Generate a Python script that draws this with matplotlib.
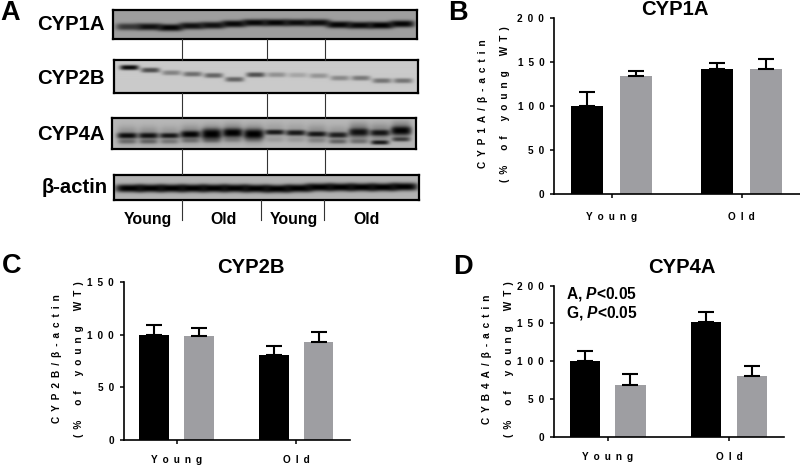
import numpy as np
import matplotlib
matplotlib.use('Agg')
import matplotlib.pyplot as plt

plt.rcParams['font.family'] = ['Liberation Sans', 'DejaVu Sans']
plt.rcParams['font.weight'] = 'bold'
plt.rcParams['mathtext.fontset'] = 'custom'
plt.rcParams['mathtext.bfit'] = 'Liberation Sans:italic:bold'

# bar charts
groups = ['Young', 'Old']
cyp1a_black = [100, 142]
cyp1a_black_err = [16, 7]
cyp1a_gray = [134, 142]
cyp1a_gray_err = [5, 11]
cyp2b_black = [100, 81]
cyp2b_black_err = [9, 8.5]
cyp2b_gray = [99, 92.5]
cyp2b_gray_err = [7, 10]
cyp4a_black = [100, 152]
cyp4a_black_err = [13, 13]
cyp4a_gray = [69, 81]
cyp4a_gray_err = [14, 12]

# blots: band height in the box (0 top, 1 bottom) and darkness, one per lane
cyp1a_y = [.57, .57, .60, .54, .52, .47, .43, .43, .43, .43, .50, .52, .52, .47]
cyp1a_dark = [.65, .9, .97, .9, .9, .95, .95, .97, .92, .92, .97, .95, 1, .97]
cyp2b_y = [.22, .30, .38, .42, .46, .58, .44, .44, .45, .47, .54, .54, .62, .62]
cyp2b_dark = [.95, .62, .35, .45, .5, .5, .6, .28, .18, .26, .32, .4, .42, .42]
cyp4a_y = [.56, .56, .56, .52, .51, .47, .51, .45, .47, .51, .54, .45, .47, .40]
cyp4a_dark = [.92, .88, .85, .97, 1, 1, 1, .85, .85, .85, .8, .85, .85, .97]
cyp4a_size = [2.8, 2.8, 2.6, 3.4, 5, 4.2, 4.6, 2.6, 2.8, 2.6, 2.8, 3.6, 3.0, 4.0]
cyp4a_low_y = [.75, .75, .75, .72, .72, .70, .70, .70, .70, .72, .75, .75, .78, .68]
cyp4a_low_dark = [.3, .35, .25, .25, .25, .15, .15, .08, .08, .15, .38, .3, .85, .6]
cyp4a_haze_dark = [.25, .25, .2, .3, .35, .35, .35, .15, .15, .25, .2, .4, .3, .4]
actin_y = [.54, .54, .54, .54, .54, .54, .55, .56, .54, .50, .50, .50, .50, .48]
actin_dark = [1, 1, 1, 1, 1, 1, 1, 1, 1, 1, 1, 1, 1, 1]

W, H = 800, 465
EN = '\u2002'
fig = plt.figure(figsize=(8, 4.65), dpi=100)


def px_axes(x0, y0, x1, y1, **kw):
    return fig.add_axes([x0 / W, 1 - y1 / H, (x1 - x0) / W, (y1 - y0) / H], **kw)


def spaced(s):
    return EN.join(s)


def blot(box, bg, bands):
    x0, y0, x1, y1 = box
    ax = px_axes(x0, y0, x1, y1)
    xx, yy = np.meshgrid(np.arange(0, x1 - x0, 0.5), np.arange(0, y1 - y0, 0.5))
    light = np.ones_like(xx)
    lanes = np.linspace(.05, .95, 14) * (x1 - x0)
    for ys, darks, sigma, half in bands:
        sizes = sigma if np.ndim(sigma) else [sigma] * len(lanes)
        for cx, fy, d, s in zip(lanes, ys, darks, sizes):
            band = np.exp(-((xx - cx) / half) ** 4 - (np.abs(yy - fy * (y1 - y0)) / s) ** 2.6)
            light *= 1 - d * band
    ax.imshow(bg * light, cmap='gray', vmin=0, vmax=1, aspect='auto',
              extent=(0, x1 - x0, y1 - y0, 0), interpolation='bilinear')
    ax.set_xticks([])
    ax.set_yticks([])
    for s in ax.spines.values():
        s.set_linewidth(1.6)


blot((113, 10, 417, 39), .62, [(cyp1a_y, cyp1a_dark, 3.5, 12.5)])
blot((114, 60.5, 418, 93), .79, [(cyp2b_y, cyp2b_dark, 2.5, 9.5)])
blot((112, 118, 416, 149), .72, [(cyp4a_y, cyp4a_haze_dark, 9, 10),
                                 (cyp4a_y, cyp4a_dark, cyp4a_size, 10),
                                 (cyp4a_low_y, cyp4a_low_dark, 2.2, 9)])
blot((114, 174.5, 419, 200), .70, [(actin_y, actin_dark, 3.9, 14)])


def bars(box, title_x, title_y, title, ylab, lab_x, ymax, yticks, xpad, black, black_err, gray, gray_err):
    ax = px_axes(*box)
    x = np.arange(len(groups))
    ax.bar(x - .188, black, .248, color='black')
    ax.bar(x + .188, gray, .248, color='#9e9ea2')
    for xs, v, e in ((x - .188, black, black_err), (x + .188, gray, gray_err)):
        ax.errorbar(xs, v, yerr=[np.zeros(len(e)), e], fmt='none', ecolor='black',
                    elinewidth=1.5, capsize=5.6, capthick=1.5)
    ax.set_xlim(-.44, 1.45)
    ax.set_ylim(0, ymax)
    ax.set_yticks(yticks)
    ax.set_yticklabels([spaced(str(t)) for t in yticks], fontsize=7.2)
    ax.set_xticks(x)
    ax.set_xticklabels([spaced(g) for g in groups], fontsize=7.2)
    ax.tick_params(axis='y', length=3.2, width=1.1, pad=4)
    ax.tick_params(axis='x', length=3.2, width=1.1, pad=xpad)
    ax.spines['top'].set_visible(False)
    ax.spines['right'].set_visible(False)
    ax.spines['left'].set_linewidth(1.2)
    ax.spines['bottom'].set_linewidth(1.2)
    ax.patch.set_alpha(0)
    mid = (box[1] + box[3]) / 2 - 2
    over.text(box[0] - lab_x, mid, ylab, rotation=90, ha='center', va='center', fontsize=7.2)
    line2 = (EN * 3).join(spaced(w) for w in ['(%', 'of', 'young', 'WT)'])
    over.text(box[0] - lab_x + 22, mid, line2, rotation=90, ha='center', va='center', fontsize=7.2)
    over.text(title_x, title_y, title, ha='center', va='center', fontsize=14.6)


# pixel overlay for labels and connector lines
over = px_axes(0, 0, W, H)
over.set_xlim(0, W)
over.set_ylim(H, 0)
over.axis('off')
over.set_zorder(5)

for x, y0, y1 in [(182, 39, 60), (266.7, 39, 60), (324.7, 39, 60),
                  (182, 93, 118), (266.7, 93, 118), (324.7, 93, 118),
                  (182, 149, 174), (266.7, 149, 174), (324.7, 149, 174),
                  (182, 200, 219.5), (261.3, 200, 220), (323.7, 200, 220)]:
    over.plot([x, x], [y0, y1], color='#333333', lw=0.8)

for y, s in [(24, 'CYP1A'), (79, 'CYP2B'), (134, 'CYP4A')]:
    over.text(104.5, y, s, ha='right', va='center', fontsize=14.6)
over.text(108, 187, 'β-actin', ha='right', va='center', fontsize=14.6)
for x, s in [(148, 'Young'), (224, 'Old'), (293.7, 'Young'), (367, 'Old')]:
    over.text(x, 219, s, ha='center', va='center', fontsize=11.4)

for x, y, s in [(0, 13.5, 'A'), (448, 13.5, 'B'), (1.5, 266, 'C'), (453, 266.5, 'D')]:
    over.text(x, y, s, ha='left', va='center', fontsize=19.5)

bars((554.3, 17.7, 800, 194), 675, 9.5, 'CYP1A', spaced('CYP1A/β-actin'), 71, 200, [0, 50, 100, 150, 200], 10,
     cyp1a_black, cyp1a_black_err, cyp1a_gray, cyp1a_gray_err)
bars((124, 281.7, 350, 440.3), 250.7, 267.5, 'CYP2B', spaced('CYP2B/β-actin'), 67, 150, [0, 50, 100, 150], 7.5,
     cyp2b_black, cyp2b_black_err, cyp2b_gray, cyp2b_gray_err)
bars((554, 285.7, 784, 436.7), 682, 267.5, 'CYP4A', spaced('CYB4A/β-actin'), 67, 200, [0, 50, 100, 150, 200], 8,
     cyp4a_black, cyp4a_black_err, cyp4a_gray, cyp4a_gray_err)

over.text(566, 293.5, r'A, $\mathbfit{P}$<0.05', ha='left', va='center', fontsize=11.2)
over.text(566, 313, r'G, $\mathbfit{P}$<0.05', ha='left', va='center', fontsize=11.2)

fig.savefig('out.png', dpi=100)
